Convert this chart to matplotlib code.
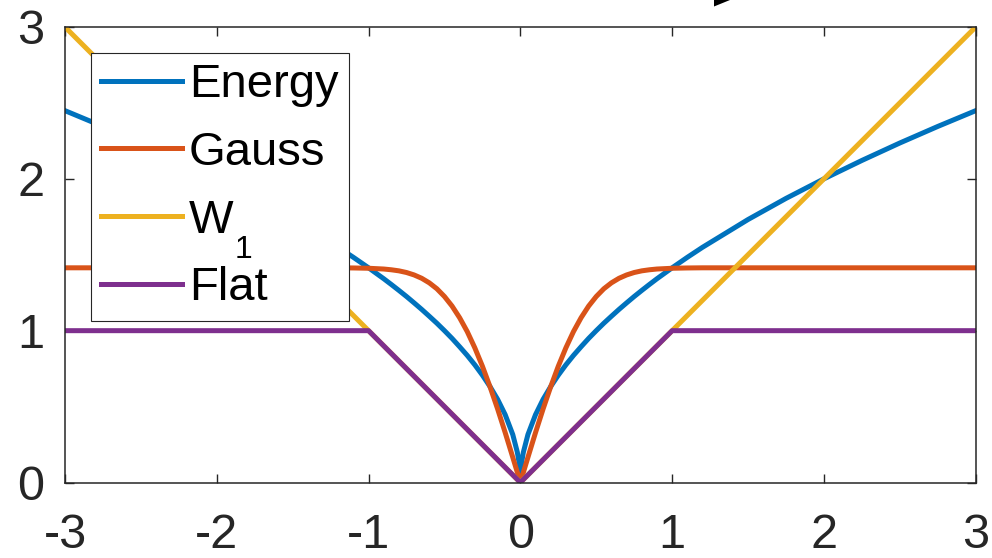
import matplotlib
matplotlib.use("Agg")
import matplotlib.pyplot as plt
from matplotlib.patches import Polygon

plt.rcParams['font.family'] = ['Liberation Sans', 'DejaVu Sans']
plt.rcParams['axes.unicode_minus'] = False

# positive half-axis sample positions (curves are symmetric about 0)
x_half = [0, 0.005, 0.01, 0.02, 0.05, 0.1, 0.15, 0.2, 0.25, 0.3, 0.35, 0.4, 0.45,
          0.5, 0.55, 0.6, 0.65, 0.7, 0.75, 0.8, 0.85, 0.9, 1.0, 1.1, 1.2, 1.5,
          1.75, 2.0, 2.25, 2.5, 2.75, 3.0]
energy_half = [0, 0.1, 0.141, 0.2, 0.316, 0.447, 0.548, 0.632, 0.707, 0.775, 0.837,
               0.894, 0.949, 1.0, 1.049, 1.095, 1.140, 1.183, 1.225, 1.265, 1.304,
               1.342, 1.414, 1.483, 1.549, 1.732, 1.871, 2.0, 2.121, 2.236, 2.345,
               2.449]
gauss_half = [0, 0.017, 0.033, 0.067, 0.166, 0.329, 0.485, 0.631, 0.766, 0.887,
              0.994, 1.085, 1.162, 1.225, 1.276, 1.315, 1.345, 1.367, 1.383, 1.394,
              1.401, 1.406, 1.411, 1.413, 1.414, 1.414, 1.414, 1.414, 1.414, 1.414,
              1.414, 1.414]
w1_x = [-3, 0, 3]
w1_y = [3, 0, 3]
flat_x = [-3, -1, 0, 1, 3]
flat_y = [1, 1, 0, 1, 1]

labels = ['Energy', 'Gauss', 'W', 'Flat']
w1_subscript = '1'
colors = ['#0072BD', '#D95319', '#EDB120', '#7E2F8E']
xticks = [-3, -2, -1, 0, 1, 2, 3]
yticks = [0, 1, 2, 3]

x_full = [-v for v in x_half[::-1]] + x_half[1:]
energy_full = energy_half[::-1] + energy_half[1:]
gauss_full = gauss_half[::-1] + gauss_half[1:]

fig = plt.figure(figsize=(9.92, 5.58), dpi=100)
ax = fig.add_axes([65 / 992, 1 - 482.5 / 558, 910.7 / 992, 455.5 / 558])

lw = 3.6
ax.plot(x_full, energy_full, color=colors[0], lw=lw, label=labels[0])
ax.plot(x_full, gauss_full, color=colors[1], lw=lw, label=labels[1])
ax.plot(w1_x, w1_y, color=colors[2], lw=lw, label=labels[2])
ax.plot(flat_x, flat_y, color=colors[3], lw=lw, label=labels[3])

ax.set_xlim(-3, 3)
ax.set_ylim(0, 3)
ax.set_xticks(xticks)
ax.set_yticks(yticks)
ax.set_xticklabels([str(t) for t in xticks])
ax.set_yticklabels([str(t) for t in yticks])

for s in ax.spines.values():
    s.set_color('#262626')
    s.set_linewidth(1.1)
ax.tick_params(direction='in', length=6.7, width=1.0, color='#262626',
               top=True, right=True, labelsize=35, labelcolor='#262626')
ax.tick_params(axis='x', pad=22)
ax.tick_params(axis='y', pad=15)

leg = ax.legend(loc='upper left', bbox_to_anchor=(0.0285, 0.943),
                borderaxespad=0, fontsize=34, frameon=True, fancybox=False,
                handlelength=1.7, handletextpad=0.15, labelspacing=0.5,
                borderpad=0.22)
leg.get_frame().set_edgecolor('#262626')
leg.get_frame().set_linewidth(0.8)
leg.get_frame().set_alpha(1)

# lowered subscript "1" after the W legend entry
fig.canvas.draw()
wt = leg.get_texts()[2]
bb = wt.get_window_extent()
fig.text((bb.x1 + 1) / 992, (bb.y0 + 8) / 558, w1_subscript, fontsize=23,
         ha='left', va='top', color='black')

# partially visible arrowhead above the axes
tri = Polygon([(714 / 992, 1.0), (714 / 992, 1 - 6.5 / 558), (730 / 992, 1.0)],
              closed=True, transform=fig.transFigure, color='black', lw=0)
fig.patches.append(tri)

fig.savefig('out.png', dpi=100)
